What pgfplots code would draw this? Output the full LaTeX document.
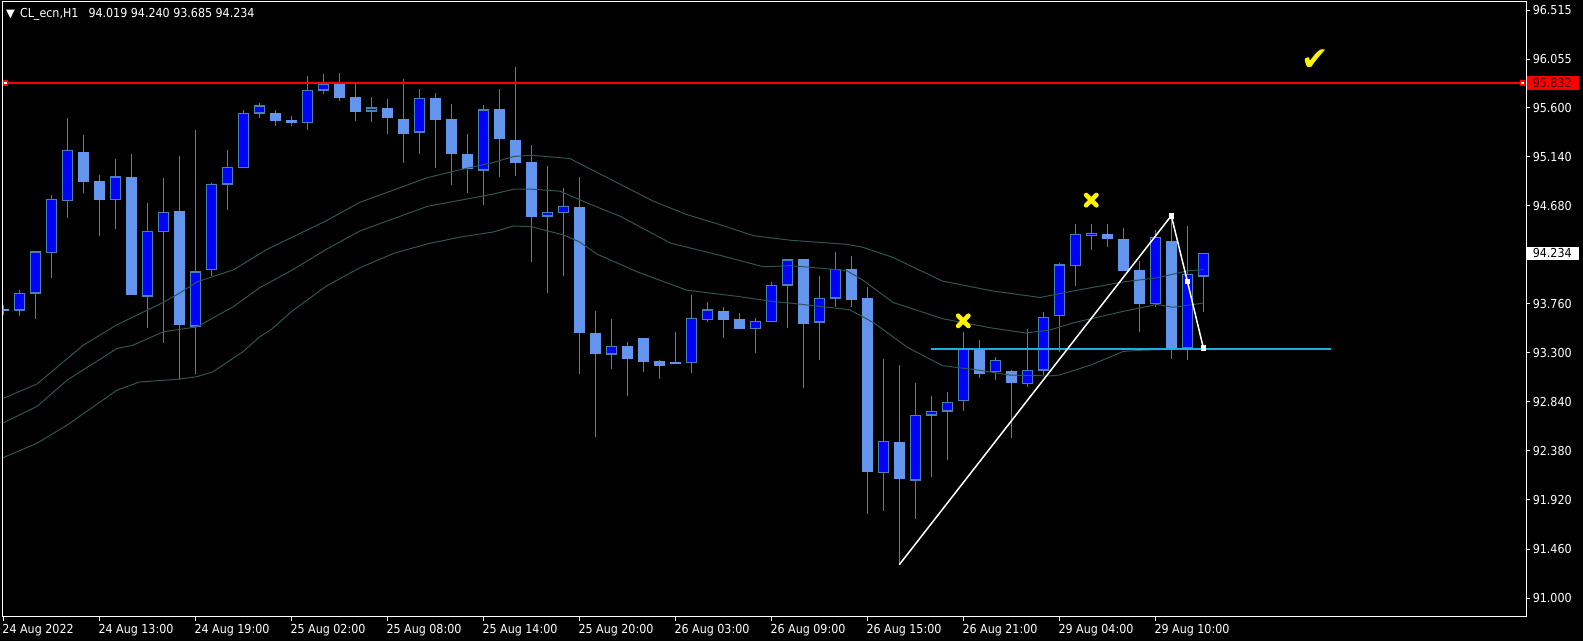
\documentclass[border=0pt]{standalone}
\usepackage{pgfplots}
\pgfplotsset{compat=1.18}
\usepackage{pgfplotstable}
\usepackage{fontspec}
\setmainfont{DejaVu Sans Condensed}
\newfontfamily\symfont{DejaVu Sans}
\definecolor{bearfill}{RGB}{100,149,237}
\definecolor{bullfill}{RGB}{0,0,255}
\definecolor{wick}{RGB}{70,130,180}
\definecolor{maline}{RGB}{50,84,84}
\definecolor{cyanline}{RGB}{25,175,225}
\definecolor{lbltext}{RGB}{60,0,0}
\newcommand\lblfont{\fontsize{12.4}{14}\selectfont}
\setlength{\fboxsep}{0pt}
\newcommand\boxlab[3]{\hspace*{-5.5bp}\colorbox{#1}{\rule[-2.4bp]{0pt}{13.7bp}\hspace{5.5bp}\textcolor{#2}{#3}\hspace{7bp}}}

\pgfplotstableread{
i O H L C
0 93.710 93.750 93.660 93.700
1 93.700 93.890 93.650 93.860
2 93.860 94.260 93.620 94.250
3 94.240 94.780 94.000 94.740
4 94.730 95.500 94.570 95.200
5 95.190 95.350 94.800 94.900
6 94.910 94.970 94.400 94.740
7 94.740 95.120 94.460 94.955
8 94.955 95.166 93.840 93.840
9 93.832 94.706 93.537 94.441
10 94.438 94.944 93.391 94.618
11 94.633 95.147 93.046 93.564
12 93.552 95.396 93.104 94.062
13 94.077 94.898 94.024 94.882
14 94.882 95.204 94.637 95.043
15 95.036 95.576 95.036 95.549
16 95.549 95.645 95.507 95.622
17 95.553 95.584 95.430 95.473
18 95.484 95.522 95.430 95.453
19 95.461 95.898 95.392 95.764
20 95.764 95.917 95.733 95.825
21 95.825 95.925 95.668 95.691
22 95.703 95.825 95.476 95.557
23 95.568 95.703 95.469 95.603
24 95.603 95.683 95.354 95.507
25 95.499 95.871 95.085 95.358
26 95.369 95.775 95.162 95.687
27 95.691 95.737 95.039 95.488
28 95.492 95.637 94.878 95.170
29 95.162 95.354 94.802 95.024
30 95.016 95.622 94.687 95.584
31 95.584 95.775 94.947 95.304
32 95.296 95.982 94.963 95.085
33 95.093 95.250 94.150 94.572
34 94.583 95.055 93.859 94.622
35 94.618 94.848 94.024 94.679
36 94.671 94.955 93.104 93.487
37 93.487 93.698 92.509 93.291
38 93.288 93.621 93.150 93.364
39 93.368 93.399 92.893 93.245
40 93.441 93.441 93.123 93.215
41 93.226 93.238 93.054 93.180
42 93.213 93.498 93.200 93.203
43 93.211 93.843 93.111 93.629
44 93.613 93.774 93.590 93.705
45 93.694 93.728 93.441 93.613
46 93.621 93.675 93.521 93.521
47 93.529 93.629 93.299 93.598
48 93.594 93.966 93.594 93.937
49 93.935 94.180 93.537 94.173
50 94.181 94.181 92.969 93.575
51 93.587 94.020 93.230 93.813
52 93.813 94.246 93.736 94.085
53 94.093 94.208 93.728 93.794
54 93.817 93.916 91.789 92.187
55 92.176 93.245 91.819 92.471
56 92.467 93.188 91.313 92.118
57 92.107 93.015 91.743 92.716
58 92.716 92.893 92.138 92.755
59 92.755 92.931 92.295 92.839
60 92.854 93.498 92.755 93.337
61 93.349 93.422 93.065 93.107
62 93.122 93.264 93.046 93.230
63 93.130 93.142 92.502 93.015
64 93.008 93.525 92.977 93.138
65 93.138 93.686 93.092 93.636
66 93.648 94.146 93.307 94.127
67 94.119 94.510 93.928 94.415
68 94.403 94.510 94.269 94.422
69 94.418 94.510 94.299 94.372
70 94.369 94.472 94.069 94.069
71 94.081 94.158 93.498 93.759
72 93.759 94.457 93.728 94.388
73 94.349 94.587 93.245 93.345
74 93.345 94.495 93.234 94.042
75 94.019 94.240 93.685 94.234
}\candles

\begin{document}
\begin{tikzpicture}
\fill[black] (0,0) rectangle (1583bp,641bp);
\path[use as bounding box] (0,0) rectangle (1583bp,641bp);
\begin{axis}[
  at={(2.7bp,24.5bp)}, anchor=south west,
  scale only axis, width=1523.3bp, height=614.8bp,
  xmin=-0.0375, xmax=95.17, ymin=90.827, ymax=96.595,
  axis line style={white, line width=1bp},
  xtick pos=left, ytick pos=right, yticklabel pos=right,
  tick align=outside, major tick length=4bp,
  tick style={white, line width=1bp},
  xtick={0,6,...,72},
  xticklabels={24 Aug 2022, 24 Aug 13:00, 24 Aug 19:00, 25 Aug 02:00, 25 Aug 08:00, 25 Aug 14:00, 25 Aug 20:00, 26 Aug 03:00, 26 Aug 09:00, 26 Aug 15:00, 26 Aug 21:00, 29 Aug 04:00, 29 Aug 10:00},
  ytick={91.000,91.460,91.920,92.380,92.840,93.300,93.760,94.234,94.680,95.140,95.600,95.832,96.055,96.515},
  yticklabels={91.000,91.460,91.920,92.380,92.840,93.300,93.760,\boxlab{white}{black}{94.234},94.680,95.140,95.600,\boxlab{red}{lbltext}{95.832},96.055,96.515},
  tick label style={font=\lblfont, text=white, inner sep=0pt},
  xticklabel style={anchor=north west, xshift=-1bp, yshift=-3.3bp},
  yticklabel style={anchor=west, xshift=2.6bp},
]
% wicks
\addplot[draw=none, mark=none, error bars/.cd, y dir=both, y explicit, error mark=none,
  error bar style={draw=wick, line width=1.2bp}]
  table[x=i, y expr={(\thisrow{H}+\thisrow{L})/2}, y error expr={(\thisrow{H}-\thisrow{L})/2}] {\candles};
% bear bodies
\addplot[draw=none, mark=none, restrict expr to domain={\thisrow{C}-\thisrow{O}}{-100:-0.000001},
  error bars/.cd, y dir=both, y explicit, error mark=none,
  error bar style={draw=bearfill, line width=11bp}]
  table[x=i, y expr={(\thisrow{O}+\thisrow{C})/2}, y error expr={(\thisrow{O}-\thisrow{C})/2}] {\candles};
% bull bodies: outline
\addplot[draw=none, mark=none, restrict expr to domain={\thisrow{C}-\thisrow{O}}{0:100},
  error bars/.cd, y dir=both, y explicit, error mark=none,
  error bar style={draw=wick, line width=11bp}]
  table[x=i, y expr={(\thisrow{O}+\thisrow{C})/2}, y error expr={(\thisrow{C}-\thisrow{O})/2+0.004}] {\candles};
% bull bodies: fill
\addplot[draw=none, mark=none, restrict expr to domain={\thisrow{C}-\thisrow{O}}{0:100},
  error bars/.cd, y dir=both, y explicit, error mark=none,
  error bar style={draw=bullfill, line width=8.4bp}]
  table[x=i, y expr={(\thisrow{O}+\thisrow{C})/2}, y error expr={max((\thisrow{C}-\thisrow{O})/2-0.009,0)}] {\candles};
% envelope lines
\addplot[maline, line width=1bp] coordinates {(0,92.874) (2.1,93.008) (5,93.372) (7.1,93.564) (10,93.774) (11,93.859) (12.1,93.966) (14.4,94.081) (16.5,94.273) (18.1,94.388) (20.2,94.541) (22.3,94.714) (24.4,94.828) (26.5,94.944) (28.6,95.020) (30.6,95.085) (31.9,95.143) (33,95.154) (35.4,95.124) (37.5,94.963) (40.6,94.725) (42.7,94.599) (44.8,94.503) (46.9,94.399) (49.2,94.357) (52.7,94.319) (53.7,94.292) (55.6,94.196) (58.7,93.974) (61.8,93.882) (64.8,93.820) (66.9,93.882) (70,93.966) (72.1,94.004) (74,94.070) (75,94.081)};
\addplot[maline, line width=1bp] coordinates {(0,92.644) (2.1,92.797) (4,93.046) (7.1,93.341) (8.1,93.372) (10,93.498) (12.1,93.544) (14.4,93.736) (16,93.909) (18.1,94.081) (20.2,94.273) (22.3,94.445) (24.4,94.560) (26.5,94.675) (28.6,94.733) (30.6,94.790) (31.9,94.836) (33,94.836) (34.8,94.817) (36.5,94.706) (38.6,94.579) (41.7,94.330) (44.8,94.215) (47.5,94.108) (49.2,94.119) (52.7,94.073) (53.7,93.985) (55.6,93.774) (58.7,93.621) (61.8,93.533) (63.9,93.487) (65.4,93.514) (66.9,93.583) (70,93.690) (72.1,93.755) (73.1,93.728) (75,93.767)};
\addplot[maline, line width=1bp] coordinates {(0,92.318) (2.1,92.452) (4,92.624) (7.1,92.950) (8.5,93.027) (11,93.054) (12.1,93.077) (13.1,93.123) (15,93.314) (16,93.449) (16.7,93.514) (18.1,93.698) (20.2,93.928) (22.3,94.100) (24.4,94.234) (26.5,94.323) (28.6,94.388) (30.6,94.434) (31.9,94.491) (33,94.484) (35,94.407) (36,94.342) (37.1,94.227) (39.6,94.062) (42.7,93.889) (45.8,93.832) (48.1,93.782) (49.2,93.767) (52.9,93.705) (54.4,93.583) (56.5,93.353) (58.7,93.180) (60.8,93.142) (62.9,93.092) (65.4,93.084) (66,93.092) (68,93.188) (70,93.314) (71.3,93.326) (75,93.341)};
% red level line
\addplot[red, line width=1.6bp] coordinates {(0,95.832) (95.1,95.832)};
\addplot[only marks, mark=square*, mark size=2bp, mark options={fill=white, draw=red, line width=1.2bp}] coordinates {(0.12,95.832) (94.96,95.832)};
% cyan level
\addplot[cyanline, line width=2bp] coordinates {(58,93.341) (83,93.341)};
% white trend lines
\addplot[white, line width=1.5bp] coordinates {(56,91.313) (73,94.587) (74,93.974) (75,93.349)};
\addplot[only marks, mark=square*, mark size=2.3bp, white] coordinates {(73,94.587) (74,93.974) (75,93.349)};
% yellow crosses
\addplot[only marks, mark=x, mark size=7.3bp, mark options={draw=yellow, line width=4.6bp, line cap=round}] coordinates {(60,93.601) (68,94.733)};
% check mark
\addplot[only marks, mark=text, text mark={\symfont\fontsize{33}{33}\selectfont ✔}, text mark as node=true, text mark style={text=yellow}, mark options={yellow}] coordinates {(82,96.048)};
% title
\node[anchor=base west, inner sep=0pt, text=white, font=\lblfont] at ([xshift=3.3bp, yshift=-15.6bp]rel axis cs:0,1) {{\symfont\fontsize{11.5}{11}\selectfont ▼}\hspace{5bp}CL\_ecn,H1};
\node[anchor=base west, inner sep=0pt, text=white, font=\lblfont] at ([xshift=85.6bp, yshift=-15.6bp]rel axis cs:0,1) {94.019 94.240 93.685 94.234};
\end{axis}
\end{tikzpicture}
\end{document}
